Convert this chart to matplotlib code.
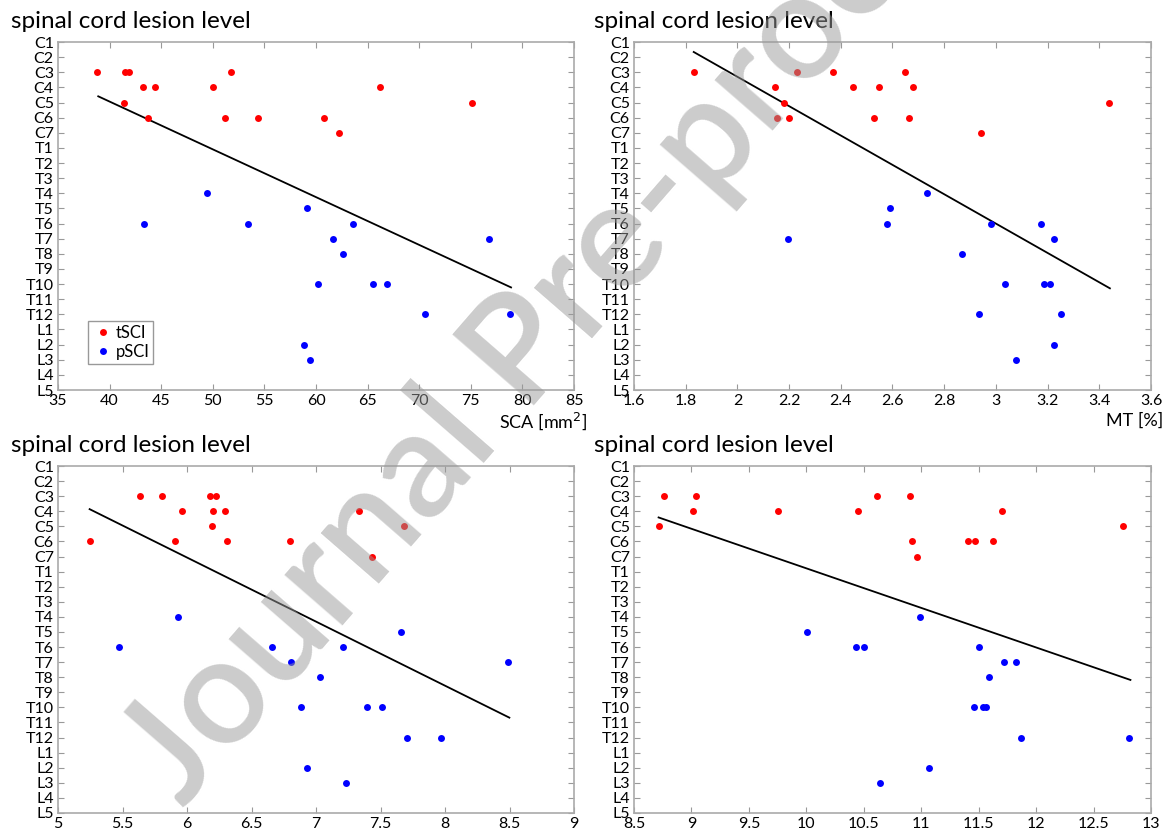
import numpy as np
import matplotlib
matplotlib.use('Agg')
import matplotlib.pyplot as plt

plt.rcParams['font.family'] = ['Lato', 'DejaVu Sans']

levels = ['C1', 'C2', 'C3', 'C4', 'C5', 'C6', 'C7',
          'T1', 'T2', 'T3', 'T4', 'T5', 'T6', 'T7', 'T8', 'T9', 'T10', 'T11', 'T12',
          'L1', 'L2', 'L3', 'L4', 'L5']

# lesion level of each patient (as names)
tsci_lvl = ['C3', 'C3', 'C3', 'C3', 'C4', 'C4', 'C4', 'C4', 'C5', 'C5',
            'C6', 'C6', 'C6', 'C6', 'C7']
psci_lvl = ['T4', 'T5', 'T6', 'T6', 'T6', 'T7', 'T7', 'T8',
            'T10', 'T10', 'T10', 'T12', 'T12', 'L2', 'L3']

# panel 1: SCA [mm2]
sca_t = [38.8, 41.5, 41.9, 51.8, 43.2, 44.4, 50.0, 66.2, 41.4, 75.1,
         43.7, 51.2, 54.4, 60.8, 62.2]
sca_p = [49.4, 59.1, 43.3, 53.4, 63.6, 61.6, 76.8, 62.6,
         60.2, 65.5, 66.9, 70.6, 78.8, 58.8, 59.4]
sca_fit = [38.9, 78.9, 4.59, 17.22]   # x0, x1, y0, y1

# panel 2: MT [%]
mt_t = [1.831, 2.232, 2.368, 2.650, 2.146, 2.449, 2.546, 2.680, 2.182, 3.438,
        2.153, 2.201, 2.527, 2.663, 2.943]
mt_p = [2.734, 2.589, 2.578, 2.981, 3.173, 2.194, 3.225, 2.868,
        3.037, 3.186, 3.210, 2.936, 3.251, 3.223, 3.077]
mt_fit = [1.831, 3.441, 1.66, 17.28]

# panel 3
p3_t = [5.638, 5.810, 6.175, 6.227, 5.962, 6.201, 6.297, 7.335, 6.195, 7.682,
        5.245, 5.910, 6.309, 6.796, 7.437]
p3_p = [5.933, 7.659, 5.475, 6.656, 7.207, 6.805, 8.490, 7.029,
        6.880, 7.397, 7.513, 7.708, 7.968, 6.930, 7.236]
p3_fit = [5.245, 8.499, 3.86, 17.68]

# panel 4
p4_t = [8.76, 9.039, 10.618, 10.904, 9.010, 9.757, 10.446, 11.707, 8.714, 12.756,
        10.924, 11.408, 11.467, 11.623, 10.963]
p4_p = [10.992, 10.004, 10.430, 10.501, 11.502, 11.717, 11.824, 11.586,
        11.463, 11.538, 11.564, 11.869, 12.811, 11.067, 10.641]
p4_fit = [8.714, 12.821, 4.41, 15.18]

panels = [
    (sca_t, sca_p, sca_fit, (35, 85), np.arange(35, 86, 5), 'SCA [mm$^2$]'),
    (mt_t, mt_p, mt_fit, (1.6, 3.6), np.arange(1.6, 3.61, 0.2), 'MT [%]'),
    (p3_t, p3_p, p3_fit, (5, 9), np.arange(5, 9.01, 0.5), None),
    (p4_t, p4_p, p4_fit, (8.5, 13), np.arange(8.5, 13.01, 0.5), None),
]

W, H = 1164, 836
boxes = [(58, 42, 516, 348), (634, 42, 517, 348),
         (58, 466, 516, 347), (634, 466, 517, 347)]
title_pos = [(11, 22), (594, 22), (11, 445), (594, 445)]
label_pos = [(587, 421), (1163, 421)]

fig = plt.figure(figsize=(W / 100, H / 100), dpi=100)
lvl_idx = {n: i + 1 for i, n in enumerate(levels)}

for k, (xt, xp, fit, xlim, xticks, xlabel) in enumerate(panels):
    l, t, w, h = boxes[k]
    ax = fig.add_axes([l / W, 1 - (t + h) / H, w / W, h / H])
    yt = [lvl_idx[n] for n in tsci_lvl]
    yp = [lvl_idx[n] for n in psci_lvl]
    ax.plot(xt, yt, 'o', color='#ff0000', ms=5, mec='none', label='tSCI', zorder=3)
    ax.plot(xp, yp, 'o', color='#0000ff', ms=5, mec='none', label='pSCI', zorder=3)
    ax.plot(fit[:2], fit[2:], color='black', lw=1.3, zorder=2)
    ax.set_xlim(*xlim)
    ax.set_ylim(len(levels), 1)
    ax.set_xticks(xticks)
    ax.set_xticklabels(['%g' % v for v in np.round(xticks, 2)])
    ax.set_yticks(np.arange(1, len(levels) + 1))
    ax.set_yticklabels(levels)
    ax.tick_params(direction='in', top=True, right=True, length=4,
                   color='#999999', labelsize=11.5, pad=3)
    for s in ax.spines.values():
        s.set_color('#aaaaaa')
        s.set_linewidth(1.2)
    if k == 0:
        leg = ax.legend(loc='lower left', bbox_to_anchor=(0.058, 0.075),
                        fontsize=12, handletextpad=0.1, handlelength=1.3,
                        borderpad=0.25, fancybox=False, framealpha=1,
                        labelspacing=0.15, borderaxespad=0)
        leg.get_frame().set_edgecolor('#999999')
        leg.get_frame().set_linewidth(1.0)
    tx, ty = title_pos[k]
    fig.text(tx / W, 1 - ty / H, 'spinal cord lesion level', fontsize=17.5,
             ha='left', va='center')
    if xlabel:
        lx, ly = label_pos[k]
        fig.text(lx / W, 1 - ly / H, xlabel, fontsize=13, ha='right', va='center')

# watermark
fig.text(535 / W, 1 - 340 / H, 'Journal Pre-proof', fontsize=108, color='#999999',
         rotation=49, rotation_mode='anchor', ha='center', va='center',
         fontweight='semibold', alpha=0.5, zorder=10)

fig.savefig('out.png', dpi=100)
